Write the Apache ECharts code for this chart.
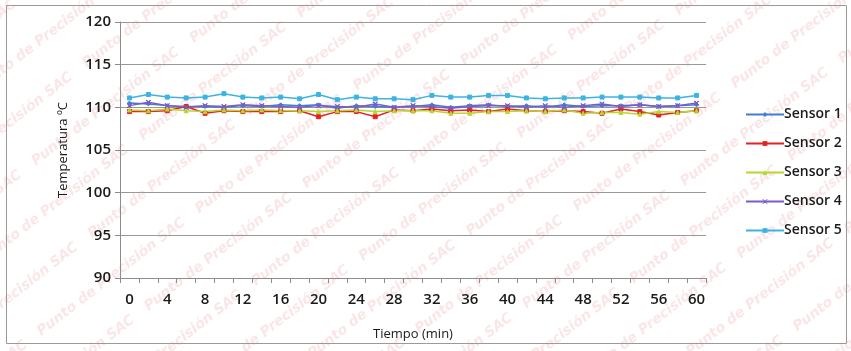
<!DOCTYPE html>
<html>
<head>
<meta charset="utf-8">
<script src="https://cdn.jsdelivr.net/npm/echarts@6/dist/echarts.min.js"></script>
<style>
  html, body { margin: 0; padding: 0; background: #fff; }
  #chart { width: 851px; height: 351px; }
</style>
</head>
<body>
<div id="chart"></div>
<script>
// Time in minutes (one reading every 2 min)
const tiempo = [0,2,4,6,8,10,12,14,16,18,20,22,24,26,28,30,32,34,36,38,40,42,44,46,48,50,52,54,56,58,60];

const sensor1 = [110.5,110.4,110.2,110.1,110.1,110.0,110.2,110.1,110.3,110.2,110.3,109.9,110.2,110.1,110.0,110.1,110.3,110.0,110.2,110.3,110.1,110.2,110.0,110.3,110.1,110.2,110.2,110.3,110.1,110.2,110.3];
const sensor2 = [109.5,109.5,109.6,110.1,109.3,109.6,109.5,109.5,109.5,109.6,108.9,109.5,109.5,108.9,109.7,109.6,109.8,109.6,109.7,109.5,109.8,109.6,109.5,109.6,109.5,109.3,109.8,109.5,109.1,109.4,109.6];
const sensor3 = [109.7,109.6,109.8,109.6,109.5,109.7,109.6,109.7,109.6,109.6,109.5,109.6,109.7,109.5,109.6,109.6,109.6,109.3,109.3,109.5,109.5,109.6,109.5,109.7,109.3,109.4,109.4,109.2,109.5,109.4,109.6];
const sensor4 = [110.2,110.6,110.2,110.0,110.2,110.1,110.3,110.2,110.1,110.0,110.2,110.1,110.0,110.4,110.0,110.2,110.1,109.9,110.1,110.2,110.2,110.0,110.2,110.0,110.2,110.4,110.1,110.3,110.1,110.2,110.5];
const sensor5 = [111.1,111.5,111.2,111.1,111.2,111.6,111.2,111.1,111.2,111.0,111.5,110.9,111.2,111.0,111.0,110.9,111.4,111.2,111.2,111.4,111.4,111.1,111.0,111.1,111.1,111.2,111.2,111.2,111.1,111.1,111.4];

const seriesNames = ['Sensor 1','Sensor 2','Sensor 3','Sensor 4','Sensor 5'];
const seriesData = [sensor1, sensor2, sensor3, sensor4, sensor5];
const seriesColors = ['#3f7fd0','#e2231f','#b9d531','#7a5cc9','#3cb4e2'];
const xMarker = 'path://M0,0 L10,10 M10,0 L0,10 M0,0 L1,0 L10,9 L10,10 L9,10 L0,1 Z M10,0 L10,1 L1,10 L0,10 L0,9 L9,0 Z';
const seriesSymbols = ['diamond','rect','triangle', xMarker, 'rect'];

const fontFam = '"Open Sans", "Noto Sans", sans-serif';

// Faint repeated watermark text laid out on a rotated lattice
const watermark = [];
const wmText = 'Punto de Precisión SAC';
const wmAngle = 0.66;
const dx = Math.cos(wmAngle), dy = -Math.sin(wmAngle);   // along the text
const nx = Math.sin(wmAngle), ny = Math.cos(wmAngle);    // across the rows
const wmStep = 200, wmRow = 46;
for (let j = -14; j < 14; j++) {
  for (let i = -6; i < 10; i++) {
    const s = i * wmStep + (j % 2 ? wmStep / 2 : 0);
    const t = j * wmRow;
    const x = 300 + s * dx + t * nx;
    const y = 180 + s * dy + t * ny;
    if (x < -250 || x > 900 || y < -50 || y > 520) continue;
    watermark.push({
      type: 'text',
      x: x, y: y,
      rotation: wmAngle,
      silent: true,
      z: -10,
      style: {
        text: wmText,
        fill: 'rgba(225,105,105,0.17)',
        font: 'italic bold 14px "DejaVu Sans", sans-serif'
      }
    });
  }
}

const chart = echarts.init(document.getElementById('chart'), null, { renderer: 'canvas' });

chart.setOption({
  backgroundColor: '#ffffff',
  animation: false,
  graphic: watermark.concat([{
    type: 'rect',
    shape: { x: 6.5, y: 5.5, width: 840, height: 338 },
    silent: true,
    z: 100,
    style: { fill: 'none', stroke: '#9a9a9a', lineWidth: 1 }
  }]),
  grid: { left: 120, right: 145, top: 22, bottom: 73 },
  legend: {
    orient: 'vertical',
    left: 740,
    top: 100,
    itemWidth: 38,
    itemHeight: 6,
    itemGap: 10,
    data: seriesNames,
    textStyle: { fontFamily: fontFam, fontSize: 14, fontWeight: 600, color: '#1a1a1a', padding: [0, 0, 0, -5], lineHeight: 19 }
  },
  xAxis: {
    type: 'category',
    data: tiempo,
    boundaryGap: true,
    name: 'Tiempo (min)',
    nameLocation: 'middle',
    nameGap: 50,
    nameTextStyle: { fontFamily: fontFam, fontSize: 13, color: '#1a1a1a' },
    axisLine: { lineStyle: { color: '#8c8c8c', width: 1 } },
    axisTick: { show: true, alignWithLabel: false, interval: 0, length: 5, lineStyle: { color: '#8c8c8c' } },
    axisLabel: { interval: 1, margin: 14, fontFamily: fontFam, fontSize: 15, fontWeight: 600, color: '#1a1a1a' },
    splitLine: { show: false }
  },
  yAxis: {
    type: 'value',
    min: 90,
    max: 120,
    interval: 5,
    name: 'Temperatura ºC',
    nameLocation: 'middle',
    nameGap: 50,
    nameTextStyle: { fontFamily: fontFam, fontSize: 13, color: '#1a1a1a' },
    axisLine: { show: true, lineStyle: { color: '#8c8c8c', width: 1 } },
    axisTick: { show: true, length: 5, lineStyle: { color: '#8c8c8c' } },
    axisLabel: { margin: 9, fontFamily: fontFam, fontSize: 15, fontWeight: 600, color: '#1a1a1a' },
    splitLine: { show: true, lineStyle: { color: '#999999', width: 1 } }
  },
  series: seriesNames.map((name, i) => ({
    name: name,
    type: 'line',
    data: seriesData[i],
    symbol: seriesSymbols[i],
    symbolSize: 4,
    showSymbol: true,
    lineStyle: { width: 1.5, color: seriesColors[i] },
    itemStyle: { color: seriesColors[i], borderColor: seriesColors[i] },
    emphasis: { disabled: true }
  })),
  color: seriesColors
});
</script>
</body>
</html>
